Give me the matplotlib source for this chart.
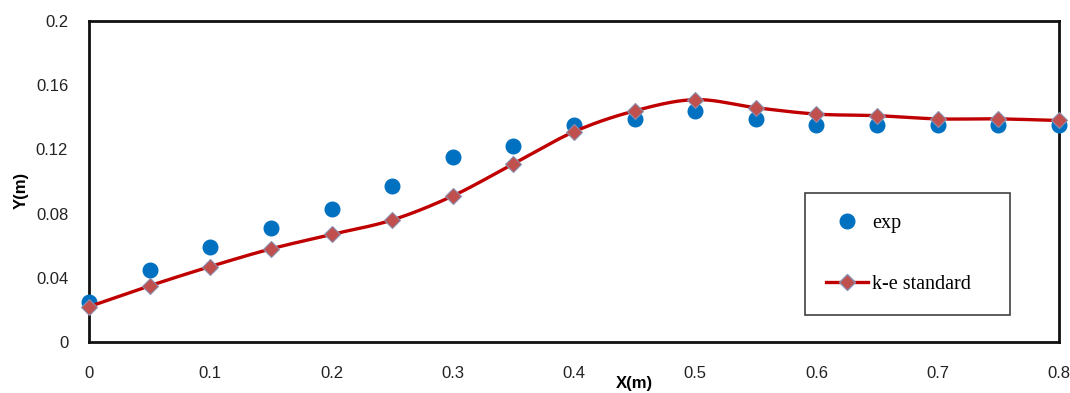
import numpy as np
import matplotlib.pyplot as plt

# measured profile vs. k-e standard prediction
x_exp = [0.0, 0.05, 0.1, 0.15, 0.2, 0.25, 0.3, 0.35, 0.4, 0.45, 0.5, 0.55, 0.6, 0.65, 0.7, 0.75, 0.8]
y_exp = [0.025, 0.045, 0.059, 0.071, 0.083, 0.097, 0.115, 0.122, 0.135, 0.139, 0.144,
         0.139, 0.135, 0.135, 0.135, 0.135, 0.135]

x_ke = [0.0, 0.05, 0.1, 0.15, 0.2, 0.25, 0.3, 0.35, 0.4, 0.45, 0.5, 0.55, 0.6, 0.65, 0.7, 0.75, 0.8]
y_ke = [0.022, 0.035, 0.047, 0.058, 0.067, 0.076, 0.091, 0.111, 0.131, 0.144, 0.151,
        0.146, 0.142, 0.141, 0.139, 0.139, 0.138]

x_ticks = [0, 0.1, 0.2, 0.3, 0.4, 0.5, 0.6, 0.7, 0.8]
x_ticklabels = ["0", "0.1", "0.2", "0.3", "0.4", "0.5", "0.6", "0.7", "0.8"]
y_ticks = [0, 0.04, 0.08, 0.12, 0.16, 0.2]
y_ticklabels = ["0", "0.04", "0.08", "0.12", "0.16", "0.2"]


def smooth_curve(x, y, n=20):
    # Catmull-Rom curve through the points, like a spreadsheet "smoothed line"
    x = np.asarray(x, float)
    y = np.asarray(y, float)
    px = np.concatenate([[2 * x[0] - x[1]], x, [2 * x[-1] - x[-2]]])
    py = np.concatenate([[2 * y[0] - y[1]], y, [2 * y[-1] - y[-2]]])
    t = np.linspace(0, 1, n, endpoint=False)
    xs, ys = [], []
    for i in range(1, len(px) - 2):
        for p, out in ((px, xs), (py, ys)):
            p0, p1, p2, p3 = p[i - 1], p[i], p[i + 1], p[i + 2]
            out.extend(0.5 * (2 * p1 + (-p0 + p2) * t
                              + (2 * p0 - 5 * p1 + 4 * p2 - p3) * t ** 2
                              + (-p0 + 3 * p1 - 3 * p2 + p3) * t ** 3))
    xs.append(x[-1])
    ys.append(y[-1])
    return np.array(xs), np.array(ys)


fig = plt.figure(figsize=(10.7, 3.93), dpi=100)
ax = fig.add_axes([0.0832, 0.1298, 0.9065, 0.8168])

ax.plot(x_exp, y_exp, 'o', color='#0070C0', markersize=10.5, label='exp', zorder=3,
        clip_on=False)

sx, sy = smooth_curve(x_ke, y_ke)
ax.plot(sx, sy, '-', color='#C00000', lw=2.4, zorder=4, clip_on=False)
ax.plot(x_ke, y_ke, 'D', color='#C0504D', markeredgecolor='#8B8FB0', markeredgewidth=0.8,
        markersize=8.5, zorder=5, clip_on=False)
# legend proxy: line with diamond
ax.plot([], [], '-D', color='#C00000', lw=2.4, markerfacecolor='#C0504D',
        markeredgecolor='#8B8FB0', markersize=8.5, label='k-e standard')

ax.set_xlim(0, 0.8)
ax.set_ylim(0, 0.2)
ax.set_xticks(x_ticks)
ax.set_xticklabels(x_ticklabels)
ax.set_yticks(y_ticks)
ax.set_yticklabels(y_ticklabels)
ax.tick_params(length=0, labelsize=12, colors='#222222')
ax.tick_params(axis='x', pad=17)
ax.tick_params(axis='y', pad=15)
for lbl in ax.get_xticklabels() + ax.get_yticklabels():
    lbl.set_fontfamily('Liberation Sans')

for s in ax.spines.values():
    s.set_linewidth(2.0)
    s.set_color('#111111')

ax.set_ylabel('Y(m)', fontfamily='Liberation Sans', fontweight='bold', fontsize=12)
ax.yaxis.set_label_coords(-0.062, 0.473)
fig.text(0.593, 0.025, 'X(m)', fontfamily='Liberation Sans', fontweight='bold',
         fontsize=12, ha='center', va='center')

leg = ax.legend(loc='lower left', bbox_to_anchor=(0.738, 0.084, 0.211, 0.38),
                mode='expand', prop={'family': 'Liberation Serif', 'size': 14.5},
                frameon=True, fancybox=False, edgecolor='#111111', labelspacing=2.05,
                handlelength=2.1, borderpad=1.05, handletextpad=0.2, borderaxespad=0)
leg.get_frame().set_linewidth(1.2)

fig.savefig('out.png', dpi=100)
